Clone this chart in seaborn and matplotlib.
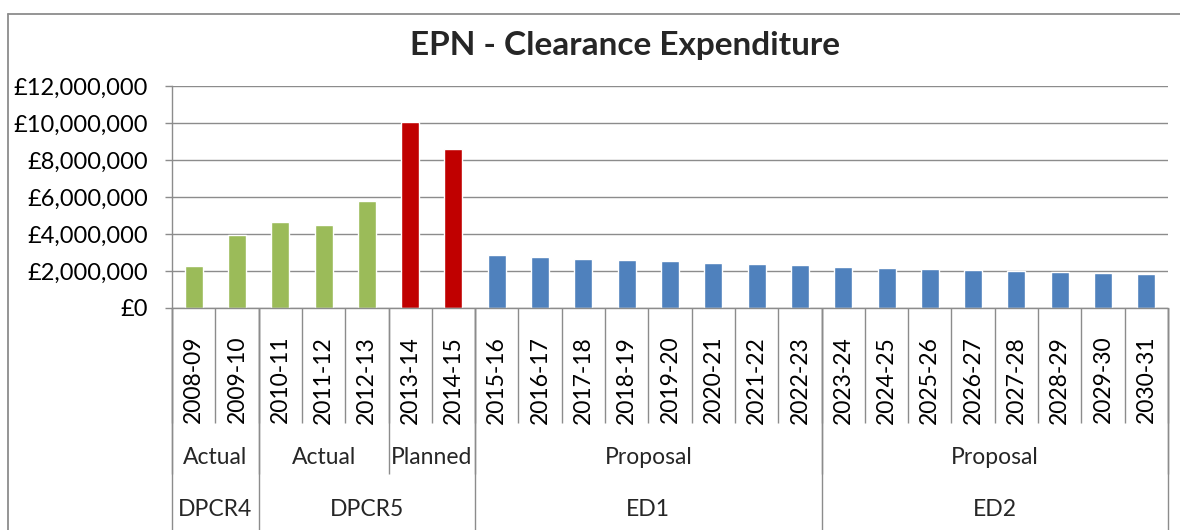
import itertools
import pandas as pd
import matplotlib
matplotlib.use('Agg')
import matplotlib.pyplot as plt
import matplotlib.transforms as mtransforms
from matplotlib.lines import Line2D
from matplotlib.ticker import FuncFormatter
import seaborn as sns

# Chart data
years = ['2008-09', '2009-10', '2010-11', '2011-12', '2012-13', '2013-14', '2014-15',
         '2015-16', '2016-17', '2017-18', '2018-19', '2019-20', '2020-21', '2021-22',
         '2022-23', '2023-24', '2024-25', '2025-26', '2026-27', '2027-28', '2028-29',
         '2029-30', '2030-31']
spend = [2250000, 3920000, 4660000, 4500000, 5790000, 10050000, 8600000,
         2840000, 2750000, 2660000, 2590000, 2520000, 2450000, 2370000, 2300000,
         2230000, 2160000, 2100000, 2050000, 2000000, 1940000, 1890000, 1830000]
phase = ['Actual'] * 5 + ['Planned'] * 2 + ['Proposal'] * 16
period = ['DPCR4'] * 2 + ['DPCR5'] * 5 + ['ED1'] * 8 + ['ED2'] * 8
y_ticks = [0, 2000000, 4000000, 6000000, 8000000, 10000000, 12000000]
title = 'EPN - Clearance Expenditure'

colours = {'Actual': '#9BBB59', 'Planned': '#C00000', 'Proposal': '#4F81BD'}
line_col = '#8c8c8c'

df = pd.DataFrame({'year': years, 'spend': spend, 'phase': phase, 'period': period})

sns.set_style('white')
plt.rcParams['font.family'] = ['Lato', 'DejaVu Sans']

W, H = 1180, 530
fig = plt.figure(figsize=(W / 100, H / 100), dpi=100)
ax = fig.add_axes([172 / W, 222 / H, 996 / W, 222 / H])

sns.barplot(data=df, x='year', y='spend', hue='phase', palette=colours,
            dodge=False, width=0.415, legend=False, ax=ax, saturation=1)

ax.set_xlim(-0.5, len(years) - 0.5)
ax.set_ylim(0, 12000000)
ax.set_yticks(y_ticks)
ax.yaxis.set_major_formatter(FuncFormatter(lambda v, p: f'£{v:,.0f}'))
ax.set_xlabel('')
ax.set_ylabel('')
ax.grid(axis='y', color=line_col, linewidth=1.0)
ax.set_axisbelow(True)
for side in ['top', 'right']:
    ax.spines[side].set_visible(False)
for side in ['left', 'bottom']:
    ax.spines[side].set_color(line_col)
    ax.spines[side].set_linewidth(1.0)
ax.tick_params(axis='y', length=5, width=1.0, color=line_col, pad=12.5,
               labelsize=17, labelcolor='black', left=True)
ax.tick_params(axis='x', length=0, pad=20, labelsize=16.5, labelcolor='black')
plt.setp(ax.get_xticklabels(), rotation=90)

# figure-pixel helper for the category rows below the axis
blend = mtransforms.blended_transform_factory(ax.transData, fig.transFigure)

def fy(px):
    return 1 - px / H

def divider(x, y_end):
    ax.plot([x, x], [fy(308), fy(y_end)], transform=blend, color=line_col,
            linewidth=1.0, clip_on=False, solid_capstyle='butt')

# year dividers
for i in range(len(years) + 1):
    divider(i - 0.5, 423)

# phase groups (nested in periods)
idx = 0
for key, grp in itertools.groupby(zip(period, phase)):
    n = len(list(grp))
    ax.text(idx + (n - 1) / 2, fy(458), key[1], transform=blend, ha='center',
            va='center', fontsize=16.5)
    divider(idx - 0.5, 474)
    idx += n
divider(idx - 0.5, 474)

# regulatory periods
idx = 0
for key, grp in itertools.groupby(period):
    n = len(list(grp))
    ax.text(idx + (n - 1) / 2, fy(509), key, transform=blend, ha='center',
            va='center', fontsize=16.5)
    divider(idx - 0.5, H)
    idx += n
divider(idx - 0.5, H)

# chart border (left and top edges visible)
fig.add_artist(Line2D([8 / W, 8 / W], [0, fy(14)], color=line_col, linewidth=1.3))
fig.add_artist(Line2D([8 / W, 1], [fy(14), fy(14)], color=line_col, linewidth=1.3))

fig.text(625 / W, fy(46), title, ha='center', va='center', fontsize=24,
         fontweight='bold')

fig.savefig('out.png', dpi=100)
